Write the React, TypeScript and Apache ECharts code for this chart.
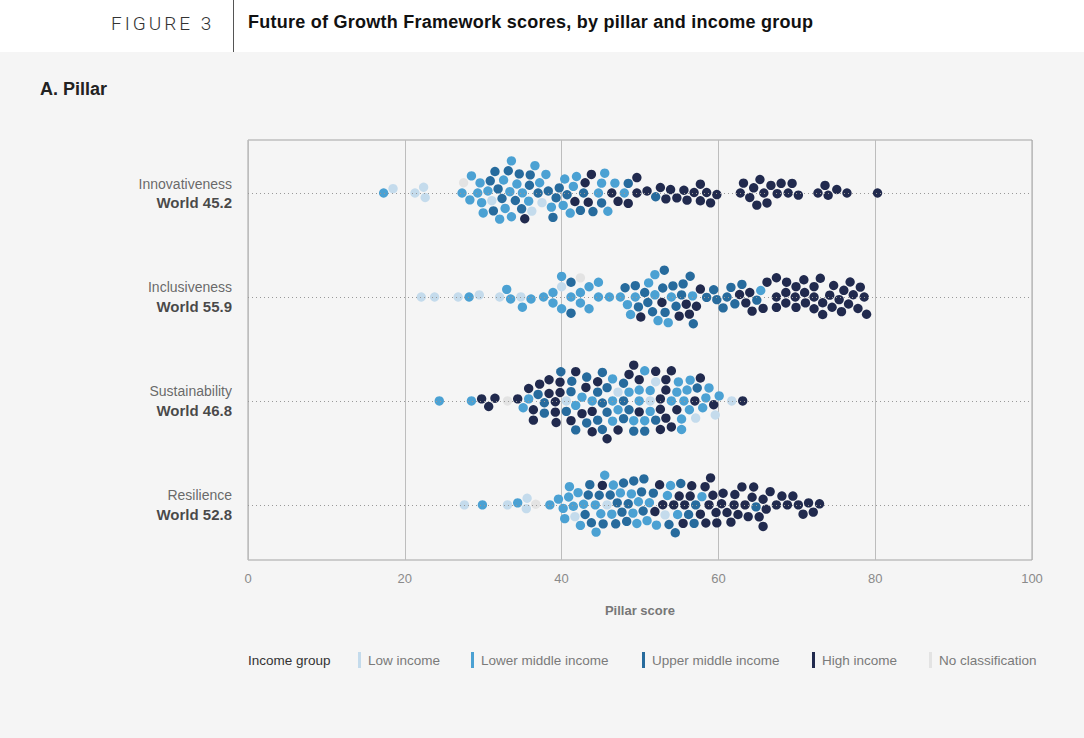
import { useEffect, useRef } from "react";
import * as echarts from "echarts";

// pillars, top to bottom
const pillars = ["Innovativeness", "Inclusiveness", "Sustainability", "Resilience"];
const worldScores = [45.2, 55.9, 46.8, 52.8];
const rowCenters = [3.5, 2.5, 1.5, 0.5];

const incomeGroups = [
  "Low income",
  "Lower middle income",
  "Upper middle income",
  "High income",
  "No classification",
];
const groupColors = ["#c4dbec", "#4ba1d3", "#276b9d", "#212a4e", "#e3e3e3"];

const xTicks = [0, 20, 40, 60, 80, 100];

// Innovativeness scores by income group
const innoLow = [18.5, 21.3, 22.6, 22.4, 36.2, 37.5, 31.1];
const innoLowerMid = [
  17.3, 27.3, 33.6, 45.1, 29.3, 32.8, 38.7, 40.2, 41.5, 28.3, 30.6, 36.6, 38.0, 41.9, 45.5, 46.8,
  29.6, 34.3, 35.8, 44.7, 28.5, 32.1, 29.8, 33.4, 41.1, 45.9, 30.0, 33.6, 37.2, 40.4, 35.0, 32.6, 48.0,
];
const innoUpperMid = [
  35.9, 31.5, 34.9, 34.1, 42.8, 44.0, 31.9, 39.3, 40.7, 33.2, 30.9, 37.0, 34.6, 38.3, 39.7, 42.4,
  32.4, 36.0, 38.9, 45.1, 31.3, 48.5, 52.0,
];
const innoHigh = [
  35.3, 43.4, 47.2, 43.8, 46.4, 41.7, 43.0, 48.5, 49.6, 49.6, 50.9, 52.6, 53.3, 53.9, 54.7, 55.6,
  56.0, 56.9, 57.7, 57.7, 58.5, 59.0, 59.8, 62.8, 63.2, 64.0, 64.5, 64.9, 65.3, 65.8, 66.2, 66.7,
  67.5, 68.0, 68.9, 69.4, 70.2, 72.7, 73.6, 74.0, 75.1, 76.4, 80.3,
];
const innoNone = [27.5];

// Inclusiveness scores by income group
const inclLow = [22.1, 23.8, 26.8, 29.5, 32.1, 34.8, 40.0];
const inclLowerMid = [
  28.2, 33.0, 33.5, 35.0, 36.1, 37.7, 38.9, 38.9, 40.0, 40.0, 41.2, 42.4, 42.4, 43.5, 43.5, 44.7,
  44.7, 46.1, 47.5, 48.4, 48.8, 49.4, 51.9, 51.9, 51.1, 52.3, 53.6, 54.0, 56.7, 65.4,
];
const inclUpperMid = [
  41.2, 41.2, 48.1, 49.4, 49.8, 50.6, 51.0, 51.6, 52.9, 53.2, 53.1, 54.2, 54.6, 55.5, 55.3, 56.4,
  56.8, 58.5, 59.4, 59.8, 60.6, 61.1, 61.6, 62.1, 63.0, 64.9,
];
const inclHigh = [
  50.1, 52.8, 55.0, 55.9, 56.3, 57.2, 57.7, 62.7, 63.5, 64.0, 64.3, 65.7, 66.2, 67.4, 67.4, 67.4,
  68.6, 68.6, 68.7, 69.8, 69.9, 69.9, 70.9, 71.0, 71.1, 72.2, 72.2, 72.2, 73.0, 73.3, 73.3, 74.2,
  74.5, 74.7, 75.4, 75.7, 76.0, 76.6, 76.8, 77.2, 77.8, 78.1, 78.6, 78.9,
];
const inclNone = [42.4];

// Sustainability scores by income group
const sustLow = [40.6, 47.2, 51.3, 52.0, 57.1, 59.6, 61.7];
const sustLowerMid = [
  24.4, 28.5, 35.1, 35.8, 41.8, 42.6, 43.9, 46.5, 46.5, 46.5, 47.2, 48.6, 49.2, 49.9, 49.9, 50.6,
  50.6, 51.3, 51.3, 54.0, 54.7, 55.3, 55.3, 54.9, 55.6, 56.0, 56.4, 56.3, 58.0, 58.4, 58.8, 60.1,
];
const sustUpperMid = [
  37.0, 37.8, 37.8, 39.9, 40.6, 41.3, 41.2, 41.8, 43.2, 43.2, 44.6, 44.6, 45.2, 45.2, 45.2, 45.8,
  45.8, 47.9, 47.9, 47.9, 48.6, 49.2, 50.6, 52.0, 57.3,
];
const sustHigh = [
  29.8, 30.7, 31.5, 34.4, 36.4, 36.4, 35.8, 37.2, 38.4, 38.4, 39.2, 39.2, 39.3, 39.8, 39.8, 41.2,
  41.8, 42.6, 43.1, 43.9, 43.9, 44.6, 45.8, 47.2, 48.6, 49.2, 49.9, 49.9, 52.0, 52.6, 52.6, 52.6,
  53.3, 53.3, 53.3, 54.0, 54.0, 54.7, 57.0, 57.7, 59.4, 63.1,
];
const sustNone = [33.1];

// Resilience scores by income group
const resLow = [27.6, 33.1, 35.5, 35.6, 41.7, 45.8, 53.2];
const resLowerMid = [
  29.9, 34.4, 38.5, 40.9, 42.1, 47.5, 48.9, 40.2, 41.5, 42.8, 44.3, 45.5, 49.6, 39.6, 41.0, 42.4,
  45.0, 46.4, 49.1, 40.4, 44.4, 49.8, 46.6, 52.1, 53.5, 54.8, 50.9, 51.2, 57.9, 53.9,
];
const resUpperMid = [
  45.3, 43.4, 44.8, 46.2, 50.2, 46.9, 48.3, 43.6, 47.7, 43.0, 47.1, 48.5, 43.8, 47.9, 49.2, 56.2,
  56.9, 50.4, 51.7, 53.7, 54.5, 57.1, 64.8, 50.5, 55.2,
];
const resHigh = [
  45.2, 58.8, 62.0, 65.7, 52.9, 54.3, 55.5, 58.3, 59.7, 61.6, 63.0, 64.3, 66.6, 68.1, 69.5, 70.8,
  72.1, 55.0, 56.4, 57.7, 59.0, 60.4, 62.5, 63.8, 65.2, 66.1, 67.4, 68.8, 70.2, 71.5, 72.9, 52.5,
  55.7, 58.4, 59.8, 61.1, 63.4, 51.9, 56.6, 59.3, 60.6, 62.1, 64.5, 65.7,
];
const resNone = [36.7];

const pillarScores = [
  [innoLow, innoLowerMid, innoUpperMid, innoHigh, innoNone],
  [inclLow, inclLowerMid, inclUpperMid, inclHigh, inclNone],
  [sustLow, sustLowerMid, sustUpperMid, sustHigh, sustNone],
  [resLow, resLowerMid, resUpperMid, resHigh, resNone],
];

// plot geometry (chart div starts below the 52px header)
const GRID = { left: 248, right: 52, top: 88, bottom: 178 };
const PLOT_W = 1084 - GRID.left - GRID.right;
const PLOT_H = 686 - GRID.top - GRID.bottom;
const Y_MIN = -0.03;
const Y_MAX = 4.01;
const X_PX = PLOT_W / 100;
const Y_PX = PLOT_H / (Y_MAX - Y_MIN);
const DOT = 9.4;
const GAP = 10.4;

// simple beeswarm: keep x, push each dot to the nearest free vertical slot
function swarm(points: { x: number; g: number }[]) {
  const sorted = [...points].sort((a, b) => a.x - b.x);
  const placed: { px: number; py: number; x: number; g: number }[] = [];
  for (const p of sorted) {
    const px = p.x * X_PX;
    const near = placed.filter((q) => Math.abs(q.px - px) < GAP);
    const cands = [0];
    for (const q of near) {
      const dy = Math.sqrt(GAP * GAP - (q.px - px) * (q.px - px));
      cands.push(q.py + dy, q.py - dy);
    }
    cands.sort((a, b) => Math.abs(a) - Math.abs(b));
    let y = 0;
    for (const c of cands) {
      const ok = near.every(
        (q) => (q.px - px) * (q.px - px) + (q.py - c) * (q.py - c) >= GAP * GAP - 0.01
      );
      if (ok) {
        y = c;
        break;
      }
    }
    placed.push({ px, py: y, x: p.x, g: p.g });
  }
  return placed;
}

const legendX = [358, 471, 642, 812, 929];

export default function App() {
  const chartRef = useRef<HTMLDivElement>(null);

  useEffect(() => {
    document.body.style.margin = "0";
    const chart = echarts.init(chartRef.current, null, { renderer: "svg" });

    const swarms = pillarScores.map((groups) =>
      swarm(groups.flatMap((vals, g) => vals.map((x) => ({ x, g }))))
    );

    const dotSeries = incomeGroups.map((name, g) => ({
      name,
      type: "scatter",
      symbolSize: DOT,
      silent: true,
      z: 3,
      itemStyle: { color: groupColors[g], opacity: 1 },
      data: swarms.flatMap((pts, p) =>
        pts.filter((d) => d.g === g).map((d) => [d.x, rowCenters[p] + d.py / Y_PX])
      ),
    }));

    const legendGraphics = incomeGroups.flatMap((name, i) => [
      {
        type: "rect",
        left: legendX[i],
        top: 600,
        shape: { width: 3, height: 16 },
        style: { fill: groupColors[i] },
      },
      {
        type: "text",
        left: legendX[i] + 10,
        top: 601,
        style: { text: name, fill: "#7a7a7a", fontSize: 13.5, fontFamily: "Liberation Sans" },
      },
    ]);

    const options = {
      animation: false,
      backgroundColor: "#f5f5f5",
      textStyle: { fontFamily: '"Liberation Sans", Arial, sans-serif' },
      grid: {
        ...GRID,
        show: true,
        borderColor: "#a3a3a3",
        borderWidth: 1,
        backgroundColor: "transparent",
      },
      xAxis: {
        type: "value",
        min: xTicks[0],
        max: xTicks[xTicks.length - 1],
        interval: 20,
        axisLine: { show: false },
        axisTick: { show: false },
        splitLine: { show: true, lineStyle: { color: "#bdbdbd", width: 1 } },
        axisLabel: { color: "#8a8a8a", fontSize: 13, margin: 12 },
        name: "Pillar score",
        nameLocation: "middle",
        nameGap: 44,
        nameTextStyle: { color: "#777", fontSize: 13, fontWeight: "bold" },
      },
      yAxis: { type: "value", min: Y_MIN, max: Y_MAX, show: false },
      graphic: [
        {
          type: "text",
          left: 40,
          top: 28,
          style: {
            text: "A. Pillar",
            fill: "#222",
            fontSize: 18,
            fontWeight: "bold",
            fontFamily: "Liberation Sans",
          },
        },
        {
          type: "text",
          left: 248,
          top: 601,
          style: {
            text: "Income group",
            fill: "#333",
            fontSize: 13.5,
            fontFamily: "Liberation Sans",
          },
        },
        ...legendGraphics,
      ],
      series: [
        {
          name: "rows",
          type: "scatter",
          symbolSize: 2,
          silent: true,
          z: 1,
          itemStyle: { color: "rgba(0,0,0,0)" },
          data: pillars.map((p, i) => ({ value: [0, rowCenters[i]], name: p })),
          label: {
            show: true,
            position: "left",
            distance: 15,
            formatter: (d: any) =>
              `{a|${d.name}}\n{b|World ${worldScores[d.dataIndex].toFixed(1)}}`,
            rich: {
              a: { fontSize: 14, color: "#444", lineHeight: 19, align: "right" },
              b: { fontSize: 15, color: "#1a1a1a", fontWeight: "bold", lineHeight: 19, align: "right" },
            },
          },
          markLine: {
            silent: true,
            symbol: ["none", "none"],
            label: { show: false },
            lineStyle: { type: [1, 3], color: "#999", width: 1 },
            data: rowCenters.map((r) => ({ yAxis: r })),
          },
        },
        ...dotSeries,
      ],
    };

    chart.setOption(options);

    return () => {
      chart.dispose();
    };
  }, []);

  return (
    <div
      style={{
        position: "relative",
        width: 1084,
        height: 738,
        background: "#f5f5f5",
        fontFamily: '"Liberation Sans", Arial, sans-serif',
      }}
    >
      <div style={{ position: "relative", height: 52, background: "#fff" }}>
        <div
          style={{
            position: "absolute",
            left: 111,
            top: 12,
            fontSize: 19,
            letterSpacing: 3,
            fontWeight: 300,
            fontFamily: "Roboto, sans-serif",
            color: "#333",
          }}
        >
          FIGURE 3
        </div>
        <div
          style={{
            position: "absolute",
            left: 233,
            top: 0,
            width: 1,
            height: 52,
            background: "#555",
          }}
        />
        <div
          style={{
            position: "absolute",
            left: 248,
            top: 12,
            fontSize: 18,
            letterSpacing: 0.25,
            fontWeight: "bold",
            color: "#111",
          }}
        >
          Future of Growth Framework scores, by pillar and income group
        </div>
      </div>
      <div ref={chartRef} style={{ width: 1084, height: 686 }} />
    </div>
  );
}
